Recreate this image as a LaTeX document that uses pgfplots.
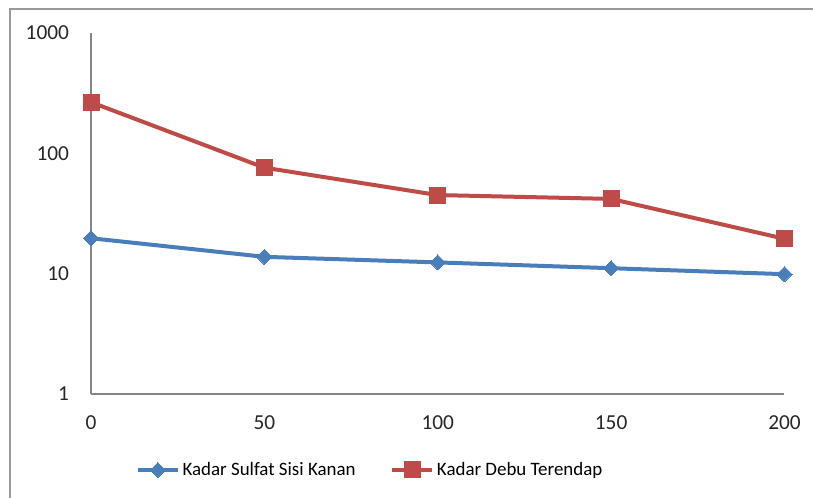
\documentclass[border=0pt]{standalone}
\usepackage{fontspec}
\setmainfont{Carlito}
\usepackage{pgfplots}
\pgfplotsset{compat=1.18}
\definecolor{xblue}{HTML}{4A7EBB}
\definecolor{xred}{HTML}{BE4B48}
\definecolor{axgray}{HTML}{868686}
\begin{document}
\begin{tikzpicture}
\path[use as bounding box] (0,0) rectangle (609.75pt,373.5pt);
\draw[line width=1.5pt, color=black!40] (7.5pt,-2pt) -- (7.5pt,367pt) -- (612pt,367pt);
\begin{axis}[
  at={(68.25pt,78pt)}, anchor=south west,
  scale only axis, width=520.1pt, height=270.75pt,
  ymode=log, ymin=1, ymax=1000, xmin=0, xmax=200,
  axis x line*=bottom, axis y line*=left,
  axis line style={axgray, line width=1.2pt},
  xtick={0,50,100,150,200},
  ytick={1,10,100,1000}, yticklabels={1,10,100,1000},
  major tick length=0pt, minor tick length=0pt, minor ytick={},
  tick label style={font=\fontsize{16}{19}\selectfont, text=black!85},
  /pgf/number format/assume math mode=true,
  yticklabel style={anchor=east, xshift=-13pt},
  xticklabel style={anchor=north, yshift=-13pt},
  log ticks with fixed point,
  clip=false,
  legend columns=2,
  legend style={at={(axis description cs:0.403,-0.2105)}, anchor=center, draw=none, fill=none,
    font=\fontsize{14.2}{17}\selectfont, /tikz/every even column/.append style={column sep=24pt},
    inner sep=0pt},
  legend cell align=left,
  legend image code/.code={\draw[#1, mark repeat=2, mark phase=2] plot coordinates {(0pt,0pt) (15pt,0pt) (30pt,0pt)};},
]
\addplot[xblue, line width=3pt, mark=square*, mark size=4pt, mark options={rotate=45, solid, line width=0pt, fill=xblue}]
  coordinates {(0,19.7) (50,13.8) (100,12.4) (150,11.1) (200,9.9)};
\addlegendentry{Kadar Sulfat Sisi Kanan}
\addplot[xred, line width=3pt, mark=square*, mark size=6pt, mark options={solid, line width=0pt, fill=xred}]
  coordinates {(0,266) (50,76) (100,45) (150,41.8) (200,19.5)};
\addlegendentry{Kadar Debu Terendap}
\end{axis}
\end{tikzpicture}
\end{document}
